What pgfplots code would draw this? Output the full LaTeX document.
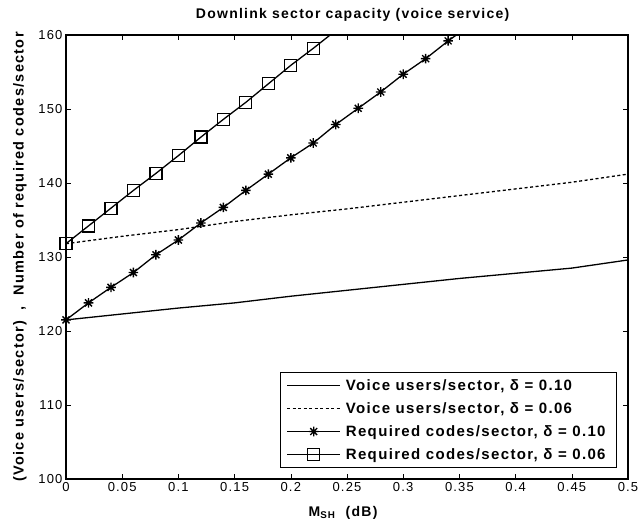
\documentclass[border=0pt]{standalone}
\usepackage{pgfplots}
\pgfplotsset{compat=1.18}
\usepackage{fontspec}
\setmainfont[LetterSpace=9]{Liberation Sans}
\pgfdeclareplotmark{mstar}{%
  \pgfpathmoveto{\pgfqpoint{0pt}{\pgfplotmarksize}}\pgfpathlineto{\pgfqpoint{0pt}{-\pgfplotmarksize}}%
  \pgfpathmoveto{\pgfqpoint{\pgfplotmarksize}{0pt}}\pgfpathlineto{\pgfqpoint{-\pgfplotmarksize}{0pt}}%
  \pgfpathmoveto{\pgfqpoint{0.72\pgfplotmarksize}{0.72\pgfplotmarksize}}\pgfpathlineto{\pgfqpoint{-0.72\pgfplotmarksize}{-0.72\pgfplotmarksize}}%
  \pgfpathmoveto{\pgfqpoint{0.72\pgfplotmarksize}{-0.72\pgfplotmarksize}}\pgfpathlineto{\pgfqpoint{-0.72\pgfplotmarksize}{0.72\pgfplotmarksize}}%
  \pgfusepathqstroke}
\begin{document}
\begin{tikzpicture}
\begin{axis}[
  scale only axis,
  width=562pt, height=444pt,
  xmin=0, xmax=0.5, ymin=100, ymax=160,
  xtick={0,0.05,...,0.5},
  ytick={100,110,...,160},
  xticklabels={0,0.05,0.1,0.15,0.2,0.25,0.3,0.35,0.4,0.45,0.5},
  tick align=inside,
  major tick length=5pt,
  tick style={black, line width=0.6pt},
  axis line style={line width=1.1pt},
  /pgf/number format/assume math mode=true,
  ticklabel style={font=\fontsize{13}{15}\selectfont},
  title={\bfseries Downlink sector capacity (voice service)},
  title style={font=\fontsize{14}{16}\selectfont, at={(axis description cs:0.51,1.032)}, anchor=center},
  xlabel={\bfseries M\textsubscript{SH}\ \ (dB)},
  xlabel style={font=\fontsize{14}{16}\selectfont, at={(axis description cs:0.493,-0.077)}, anchor=center},
  ylabel={\bfseries (Voice users/sector)\ \ ,\ \ Number of required codes/sector},
  ylabel style={font=\fontsize{14.5}{16}\selectfont, at={(axis description cs:-0.0819,0.5)}, anchor=center},
  legend style={at={(axis description cs:0.9804,0.0248)}, anchor=south east, font=\bfseries\fontsize{15}{18}\selectfont,
    draw=black, line width=0.8pt, row sep=6.5pt, inner xsep=6pt, inner ysep=5pt,
    nodes={inner xsep=5pt}},
  legend cell align=left,
  legend image code/.code={\draw[#1, line width=1.3pt] (0pt,0pt) -- (53pt,0pt); \draw[#1, only marks, line width=1.3pt] plot coordinates {(26.5pt,0pt)};},
]
\addplot[black, line width=1.3pt] coordinates {
(0,121.5) (0.05,122.3) (0.1,123.1) (0.15,123.8) (0.2,124.7) (0.25,125.5) (0.3,126.3) (0.35,127.1) (0.4,127.8) (0.45,128.5) (0.5,129.6)};
\addlegendentry{Voice users/sector, δ = 0.10}
\addplot[black, line width=1.3pt, dash pattern=on 3pt off 2.5pt] coordinates {
(0,131.8) (0.05,132.8) (0.1,133.7) (0.15,134.8) (0.2,135.7) (0.25,136.5) (0.3,137.4) (0.35,138.3) (0.4,139.2) (0.45,140.1) (0.5,141.2)};
\addlegendentry{Voice users/sector, δ = 0.06}
\addplot[black, line width=1.3pt, mark=mstar, mark size=4.8pt, mark options={line width=1.4pt}, mark indices={1,...,18}] coordinates {
(0,121.5) (0.02,123.8) (0.04,125.9) (0.06,127.9) (0.08,130.3) (0.1,132.3) (0.12,134.6) (0.14,136.7) (0.16,139.0) (0.18,141.2) (0.2,143.4) (0.22,145.4) (0.24,147.9) (0.26,150.1) (0.28,152.3) (0.30,154.7) (0.32,156.8) (0.34,159.2) (0.36,161.4)};
\addlegendentry{Required codes/sector, δ = 0.10}
\addplot[black, line width=1.3pt, mark=square, mark size=6pt, mark options={line width=1.3pt}, mark indices={1,...,12}] coordinates {
(0,131.8) (0.02,134.2) (0.04,136.6) (0.06,139.0) (0.08,141.3) (0.1,143.7) (0.12,146.2) (0.14,148.6) (0.16,150.9) (0.18,153.4) (0.2,155.9) (0.22,158.2) (0.24,160.6)};
\addlegendentry{Required codes/sector, δ = 0.06}
\end{axis}
\pgfresetboundingbox
\path[use as bounding box] ([shift={(-66pt,-45pt)}]current axis.south west) rectangle ([shift={(13pt,35pt)}]current axis.north east);
\end{tikzpicture}
\end{document}
